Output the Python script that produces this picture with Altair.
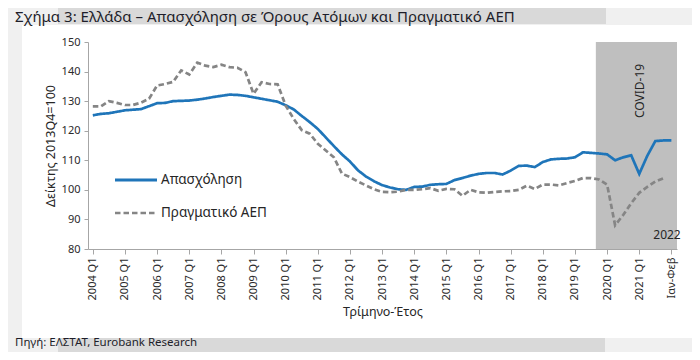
import altair as alt
import pandas as pd

# ---------------- data ----------------
series_names = ["Απασχόληση", "Πραγματικό ΑΕΠ"]

# quarterly index values, 2004 Q1 ... 2021 Q4, then Jan-Feb 2022 (employment only)
employment = [
    125.2, 125.7, 125.9, 126.4, 126.9, 127.1, 127.3, 128.3,   # 2004-2005
    129.3, 129.4, 130.0, 130.1, 130.2, 130.5, 130.9, 131.4,   # 2006-2007
    131.8, 132.2, 132.1, 131.8, 131.3, 130.8, 130.3, 129.8,   # 2008-2009
    128.6, 127.2, 125.0, 122.9, 120.6, 117.7, 114.8, 112.0,   # 2010-2011
    109.6, 106.6, 104.5, 102.9, 101.6, 100.8, 100.2, 100.0,   # 2012-2013
    101.0, 101.1, 101.7, 101.9, 102.0, 103.3, 104.0, 104.8,   # 2014-2015
    105.4, 105.7, 105.7, 105.2, 106.5, 108.1, 108.2, 107.7,   # 2016-2017
    109.4, 110.3, 110.5, 110.6, 111.0, 112.7, 112.5, 112.3,   # 2018-2019
    112.0, 110.0, 111.0, 111.7, 105.4, 111.5, 116.5, 116.7,   # 2020-2021
    116.7,                                                     # Ιαν-Φεβ 2022
]
gdp = [
    128.2, 128.2, 130.0, 129.4, 128.7, 128.7, 129.5, 130.8,   # 2004-2005
    135.3, 135.8, 136.5, 140.4, 139.0, 143.0, 142.0, 141.5,   # 2006-2007
    142.3, 141.5, 141.3, 139.8, 132.5, 136.4, 135.8, 135.7,   # 2008-2009
    128.5, 124.0, 120.2, 119.0, 115.6, 113.3, 111.0, 105.5,   # 2010-2011
    104.3, 102.8, 101.5, 100.2, 99.3, 99.2, 99.4, 100.0,      # 2012-2013
    100.0, 100.2, 100.6, 99.7, 100.3, 100.2, 98.0, 100.0,     # 2014-2015
    99.2, 99.0, 99.3, 99.5, 99.6, 100.0, 101.4, 100.3,        # 2016-2017
    101.8, 101.8, 101.5, 102.3, 103.0, 104.0, 104.0, 103.5,   # 2018-2019
    101.8, 88.0, 91.5, 95.5, 99.0, 101.0, 102.8, 103.9,       # 2020-2021
]

tick_labels = [f"{y} Q1" for y in range(2004, 2022)] + ["Ιαν-Φεβ"]
tick_positions = [4 * k for k in range(len(tick_labels))]

covid_start, covid_end = 62.6, 72.7   # quarter-index span of the shaded COVID-19 period
y_min, y_max = 80, 150

rows = []
for i, v in enumerate(employment):
    rows.append({"idx": i, "series": series_names[0], "value": v})
for i, v in enumerate(gdp):
    rows.append({"idx": i, "series": series_names[1], "value": v})
df = pd.DataFrame(rows)

# ---------------- styling ----------------
FONT = "Noto Sans"
BLUE = "#1f75b9"
GREY = "#858585"
TXT = "#262626"
AX = "#a6a6a6"
OUTER = "#f0f0f0"
BAND = "#d9d9d9"

W, H = 589, 207

label_expr = "[" + ",".join(f"'{t}'" for t in tick_labels) + "][round(datum.value/4)]"
x_scale = alt.Scale(domain=[-0.6, 72.7], nice=False, zero=False)
y_scale = alt.Scale(domain=[y_min, y_max], nice=False, zero=False)

x_axis = alt.Axis(
    values=tick_positions,
    labelExpr=label_expr,
    labelAngle=-90,
    labelFontSize=11,
    labelFont=FONT,
    labelColor="#2b2b2b",
    labelPadding=3,
    tickSize=5,
    tickColor=AX,
    domainColor=AX,
    title="Τρίμηνο-Έτος",
    titleFont=FONT,
    titleFontSize=12.5,
    titleFontWeight="normal",
    titleColor=TXT,
    titleY=56,
    titleBaseline="top",
    grid=False,
    zindex=1,
)
y_axis = alt.Axis(
    values=list(range(80, 151, 10)),
    labelFontSize=11,
    labelFont=FONT,
    labelColor="#2b2b2b",
    labelPadding=4,
    tickSize=4,
    tickColor=AX,
    domainColor=AX,
    title="Δείκτης 2013Q4=100",
    titleFont=FONT,
    titleFontSize=12.5,
    titleFontWeight="normal",
    titleColor=TXT,
    titleX=-38,
    titleY=H / 2,
    titleAlign="center",
    titleBaseline="middle",
    grid=False,
    zindex=1,
)

one = pd.DataFrame({"k": [0]})

# page decorations: light outer frame (outside the white panel) and darker bands
left_strip = alt.Chart(one).mark_rect(color=OUTER).encode(
    x=alt.value(-80), x2=alt.value(-66), y=alt.value(-34), y2=alt.value(310)
)
top_strip = alt.Chart(one).mark_rect(color=OUTER).encode(
    x=alt.value(-80), x2=alt.value(604), y=alt.value(-34), y2=alt.value(-17)
)
bottom_strip = alt.Chart(one).mark_rect(color=OUTER).encode(
    x=alt.value(-80), x2=alt.value(604), y=alt.value(296), y2=alt.value(310)
)
title_band = alt.Chart(one).mark_rect(color=BAND).encode(
    x=alt.value(-30), x2=alt.value(518), y=alt.value(-34), y2=alt.value(-18)
)
source_band = alt.Chart(one).mark_rect(color=BAND).encode(
    x=alt.value(-30), x2=alt.value(517), y=alt.value(296), y2=alt.value(310)
)

covid_df = pd.DataFrame({"x0": [covid_start], "x1": [covid_end], "y0": [y_min], "y1": [y_max]})
covid = alt.Chart(covid_df).mark_rect(color="#bfbfbf").encode(
    x=alt.X("x0:Q", scale=x_scale, axis=x_axis),
    x2="x1:Q",
    y=alt.Y("y0:Q", scale=y_scale, axis=y_axis),
    y2="y1:Q",
)

lines = alt.Chart(df).mark_line(strokeWidth=2.7).encode(
    x=alt.X("idx:Q", scale=x_scale, axis=x_axis),
    y=alt.Y("value:Q", scale=y_scale, axis=y_axis),
    color=alt.Color("series:N", scale=alt.Scale(domain=series_names, range=[BLUE, GREY]), legend=None),
    strokeDash=alt.StrokeDash("series:N", scale=alt.Scale(domain=series_names, range=[[1, 0], [5.5, 3]]), legend=None),
    detail="series:N",
)

# legend (drawn manually inside the plot)
leg1 = alt.Chart(one).mark_rule(color=BLUE, strokeWidth=2.8).encode(
    x=alt.value(27), x2=alt.value(69), y=alt.value(138)
)
leg2 = alt.Chart(one).mark_rule(color=GREY, strokeWidth=2.6, strokeDash=[5.5, 3]).encode(
    x=alt.value(27), x2=alt.value(69), y=alt.value(171)
)
leg1t = alt.Chart(one).mark_text(align="left", baseline="middle", fontSize=13.5, font=FONT, color=TXT).encode(
    x=alt.value(73), y=alt.value(138), text=alt.value(series_names[0])
)
leg2t = alt.Chart(one).mark_text(align="left", baseline="middle", fontSize=13.5, font=FONT, color=TXT).encode(
    x=alt.value(73), y=alt.value(171), text=alt.value(series_names[1])
)

covid_txt = alt.Chart(one).mark_text(angle=270, align="center", baseline="middle", fontSize=12, font=FONT, color=TXT).encode(
    x=alt.value(552), y=alt.value(49), text=alt.value("COVID-19")
)
yr_txt = alt.Chart(one).mark_text(align="center", baseline="middle", fontSize=12, font=FONT, color=TXT).encode(
    x=alt.value(579), y=alt.value(193), text=alt.value("2022")
)

title_txt = alt.Chart(one).mark_text(align="left", baseline="alphabetic", fontSize=15, font=FONT, color="#1e1e2a").encode(
    x=alt.value(-73), y=alt.value(-20),
    text=alt.value("Σχήμα 3: Ελλάδα – Απασχόληση σε Όρους Ατόμων και Πραγματικό ΑΕΠ"),
)
source_txt = alt.Chart(one).mark_text(align="left", baseline="middle", fontSize=11.5, font=FONT, color="#1e1e2a").encode(
    x=alt.value(-73), y=alt.value(301), text=alt.value("Πηγή: ΕΛΣΤΑΤ, Eurobank Research")
)

chart = alt.layer(
    left_strip, top_strip, bottom_strip, title_band, source_band, covid, lines,
    leg1, leg2, leg1t, leg2t, covid_txt, yr_txt, title_txt, source_txt,
).properties(
    width=W,
    height=H,
    autosize=alt.AutoSizeParams(type="none"),
    padding={"left": 80, "top": 34, "right": 15, "bottom": 103},
    background="white",
).configure_view(
    stroke=None
).configure_text(font=FONT)

chart.save("out.html", embed_options={"renderer": "svg", "actions": False})
